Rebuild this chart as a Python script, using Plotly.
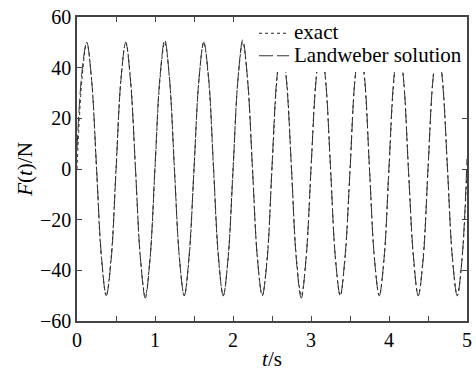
import plotly.graph_objects as go

# time samples (s), read at 1/8-period spacing
t_s = [
    0.0, 0.0625, 0.125, 0.1875, 0.25, 0.3125, 0.375, 0.4375,
    0.5, 0.5625, 0.625, 0.6875, 0.75, 0.8125, 0.875, 0.9375,
    1.0, 1.0625, 1.125, 1.1875, 1.25, 1.3125, 1.375, 1.4375,
    1.5, 1.5625, 1.625, 1.6875, 1.75, 1.8125, 1.875, 1.9375,
    2.0, 2.0625, 2.125, 2.1875, 2.25, 2.3125, 2.375, 2.4375,
    2.5, 2.5625, 2.625, 2.6875, 2.75, 2.8125, 2.875, 2.9375,
    3.0, 3.0625, 3.125, 3.1875, 3.25, 3.3125, 3.375, 3.4375,
    3.5, 3.5625, 3.625, 3.6875, 3.75, 3.8125, 3.875, 3.9375,
    4.0, 4.0625, 4.125, 4.1875, 4.25, 4.3125, 4.375, 4.4375,
    4.5, 4.5625, 4.625, 4.6875, 4.75, 4.8125, 4.875, 4.9375,
    5.0,
]

# exact force F(t) in N
F_exact = [
    0, 35, 50, 35, 0, -35, -50, -35,
    0, 35, 50, 35, 0, -35, -50, -35,
    0, 35, 50, 35, 0, -35, -50, -35,
    0, 35, 50, 35, 0, -35, -50, -35,
    0, 35, 50, 35, 0, -35, -50, -35,
    0, 35, 50, 35, 0, -35, -50, -35,
    0, 35, 50, 35, 0, -35, -50, -35,
    0, 35, 50, 35, 0, -35, -50, -35,
    0, 35, 50, 35, 0, -35, -50, -35,
    0, 35, 50, 35, 0, -35, -50, -35,
    0,
]

# Landweber reconstruction F(t) in N
F_landweber = [
    8, 38, 50, 35, 1, -34, -50, -36,
    -1, 35, 50, 34, 0, -35, -51, -35,
    1, 36, 51, 35, -1, -35, -50, -34,
    0, 35, 50, 36, 1, -34, -50, -35,
    -1, 35, 51, 35, 0, -35, -50, -36,
    1, 36, 50, 34, 0, -36, -51, -35,
    0, 34, 50, 35, 1, -35, -50, -34,
    -1, 35, 50, 36, 0, -35, -50, -35,
    1, 36, 50, 35, -1, -34, -50, -36,
    0, 35, 50, 34, 0, -35, -50, -35,
    4,
]

series_names = ["exact", "Landweber solution"]
x_tickvals = [0, 0.5, 1, 1.5, 2, 2.5, 3, 3.5, 4, 4.5, 5]
x_ticktext = ["0", "", "1", "", "2", "", "3", "", "4", "", "5"]
y_tickvals = [-60, -40, -20, 0, 20, 40, 60]

FONT = "Liberation Serif, Times New Roman, serif"


def legend_label(s):
    return '<span style="font-size:21px">' + s + "</span>"


fig = go.Figure()
fig.add_trace(go.Scatter(
    x=t_s, y=F_exact, mode="lines", name=legend_label(series_names[0]),
    line=dict(color="#222222", width=1, dash="dot", shape="spline", smoothing=1),
))
fig.add_trace(go.Scatter(
    x=t_s, y=F_landweber, mode="lines", name=legend_label(series_names[1]),
    line=dict(color="#333333", width=1, dash="14px,4px", shape="spline", smoothing=1),
))

axis_common = dict(
    showline=True, linecolor="#444444", linewidth=1.5, mirror="ticks",
    ticks="inside", ticklen=5, tickcolor="#444444", tickwidth=1,
    showgrid=False, zeroline=False,
    tickfont=dict(family=FONT, size=20, color="black"),
    ticklabeloverflow="allow",
)

fig.update_layout(
    width=476, height=371,
    margin=dict(l=77, r=4, t=17, b=41),
    paper_bgcolor="white", plot_bgcolor="white",
    font=dict(family=FONT, size=20, color="black"),
    xaxis=dict(
        range=[0, 5], tickvals=x_tickvals, ticktext=x_ticktext,
        title=dict(text="<i>t</i>/s", font=dict(family=FONT, size=21), standoff=2),
        **axis_common,
    ),
    yaxis=dict(
        range=[-60, 60], tickvals=y_tickvals,
        title=dict(text="<i>F</i>(<i>t</i>)/N", font=dict(family=FONT, size=21), standoff=2),
        **axis_common,
    ),
    legend=dict(
        x=1, y=1.0, xanchor="right", yanchor="top",
        bgcolor="white", borderwidth=0,
        font=dict(family=FONT, size=15, color="black"),
        tracegroupgap=0, itemwidth=30,
    ),
    showlegend=True,
)

fig.write_html(
    "out.html",
    config={"displayModeBar": False},
    post_script="document.body.style.margin='0';document.body.style.overflow='hidden';",
)
